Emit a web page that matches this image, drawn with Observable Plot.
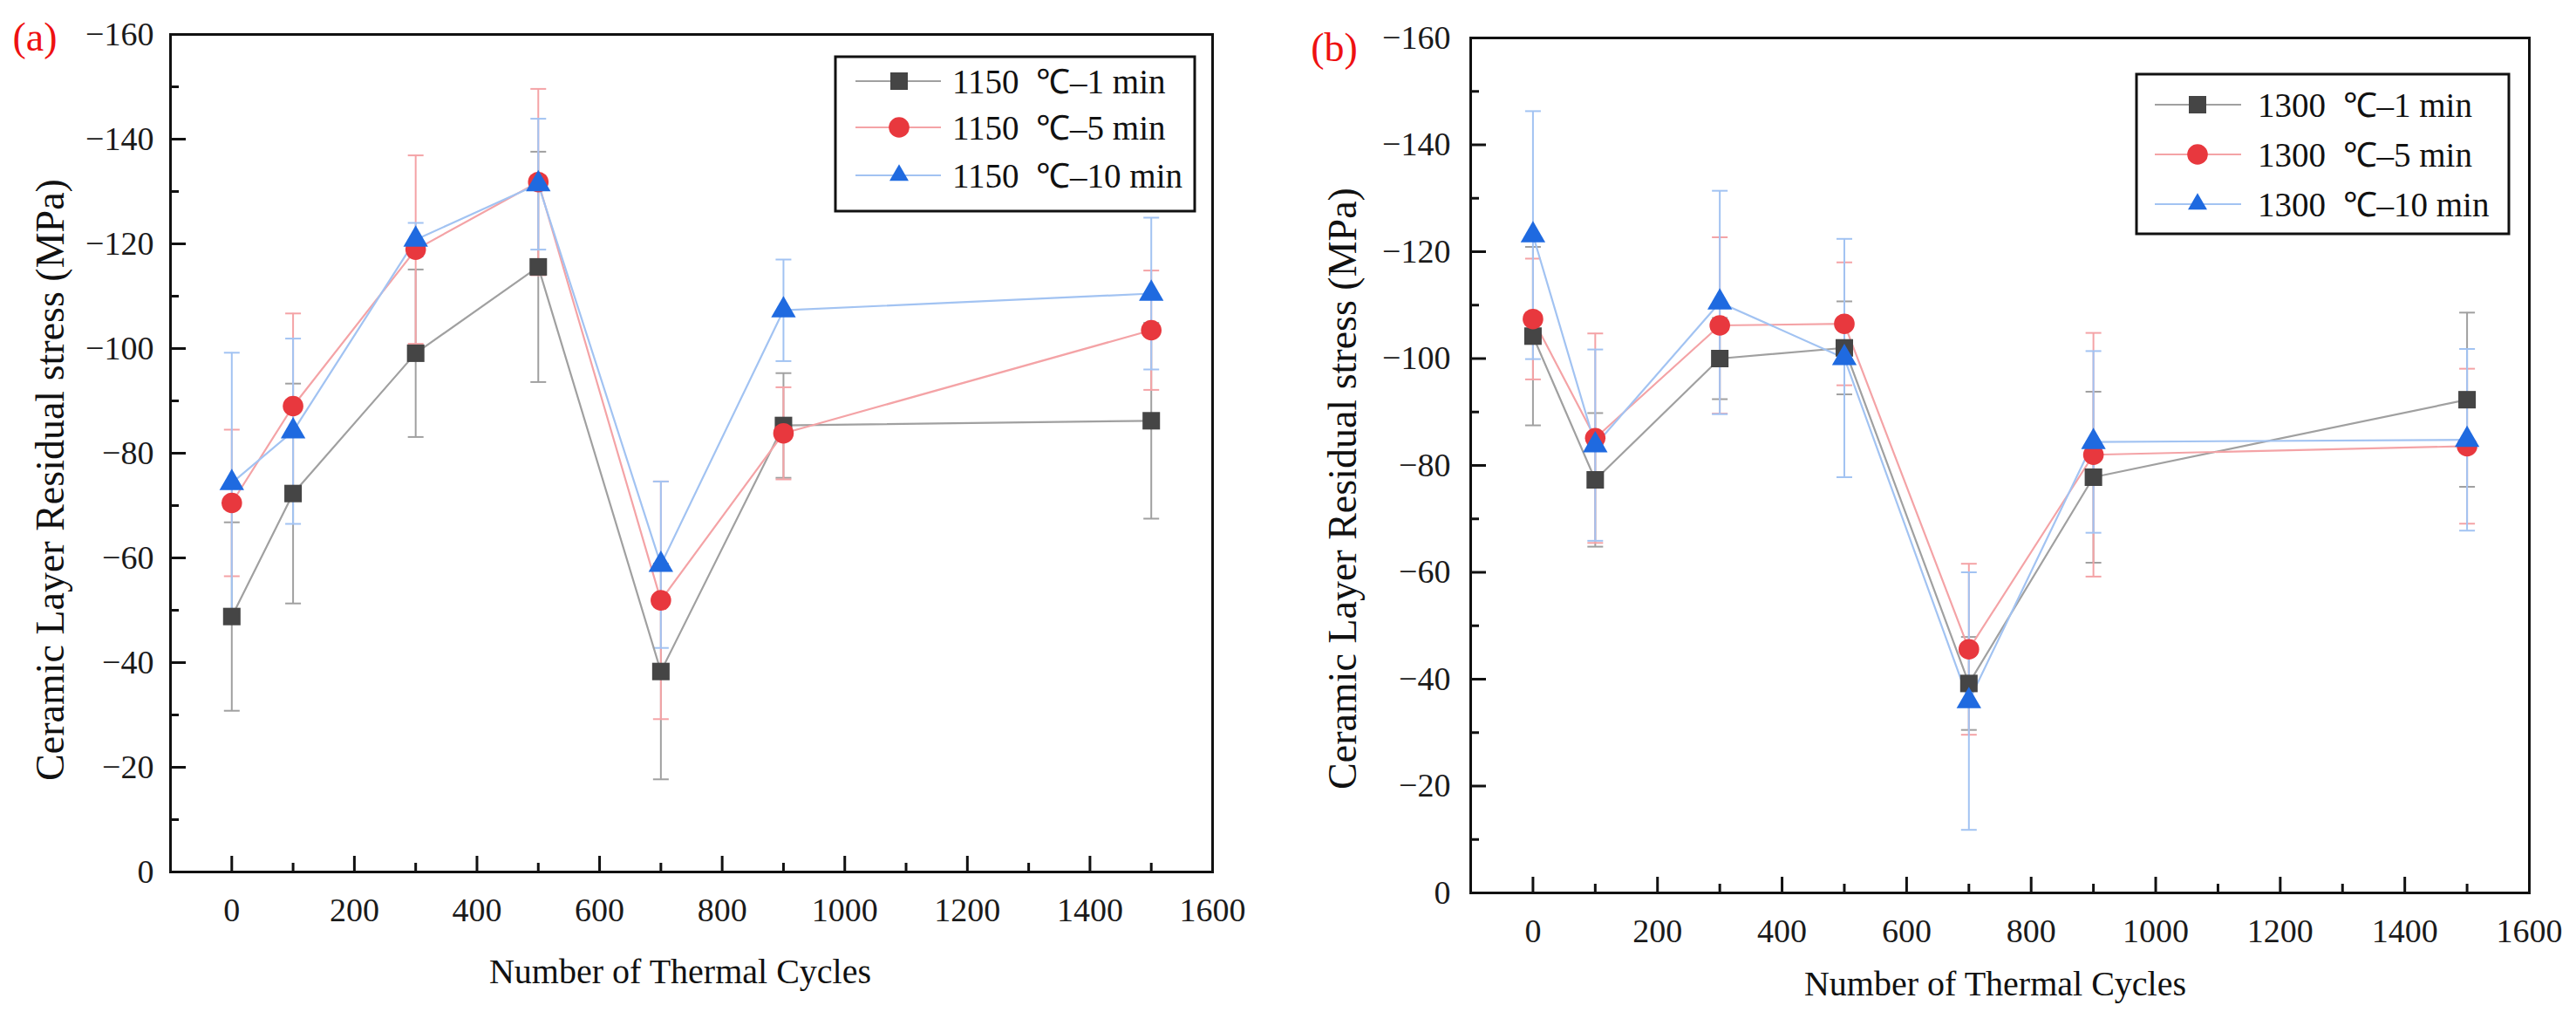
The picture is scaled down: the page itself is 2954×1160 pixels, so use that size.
<!DOCTYPE html>
<html><head><meta charset="utf-8">
<script src="https://cdn.jsdelivr.net/npm/d3@7"></script>
<script src="https://cdn.jsdelivr.net/npm/@observablehq/plot@0.6"></script>
<style>
body{margin:0;background:#fff;width:2954px;height:1160px;overflow:hidden;font-family:"Liberation Serif",serif}
.panel{position:absolute;top:0;width:1477px;height:1160px}
.panel svg{position:absolute;left:0;top:0}
.panel svg text{font-family:"Liberation Serif",serif !important}
.lab{position:absolute;white-space:nowrap;color:#111;font-family:"Liberation Serif",serif !important;transform:translate(-50%,-50%)}
.ylab{transform:translate(-50%,-50%) rotate(-90deg)}
</style></head><body>
<div id="pa" class="panel" style="left:0"></div>
<div id="pb" class="panel" style="left:1477px"></div>
<script>
// ---- data ----
const cycles = [0, 100, 300, 500, 700, 900, 1500];

const seriesA = ["1150  \u2103\u20131 min", "1150  \u2103\u20135 min", "1150  \u2103\u201310 min"];
const a1 = [-48.8, -72.3, -99.1, -115.6, -38.3, -85.3, -86.2];
const a1err = [18, 21, 16, 22, 20.6, 10, 18.7];
const a2 = [-70.5, -89.0, -118.9, -131.8, -51.9, -83.8, -103.5];
const a2err = [14, 17.7, 18, 17.8, 22.7, 8.8, 11.4];
const a3 = [-74.3, -84.2, -120.8, -131.4, -58.7, -107.3, -110.5];
const a3err = [24.9, 17.7, 3.2, 12.5, 15.9, 9.7, 14.5];

const seriesB = ["1300  \u2103\u20131 min", "1300  \u2103\u20135 min", "1300  \u2103\u201310 min"];
const b1 = [-104.2, -77.3, -100, -102, -39.2, -77.8, -92.3];
const b1err = [16.7, 12.5, 7.6, 8.7, 8.7, 16, 16.3];
const b2 = [-107.4, -85.1, -106.2, -106.5, -45.6, -82, -83.6];
const b2err = [11.3, 19.6, 16.5, 11.5, 16, 22.8, 14.5];
const b3 = [-123.1, -83.8, -110.5, -100.1, -35.9, -84.4, -84.8];
const b3err = [23.2, 17.9, 20.9, 22.3, 24.1, 17, 17];

const xMajor = [0, 200, 400, 600, 800, 1000, 1200, 1400];
const xMinor = [100, 300, 500, 700, 900, 1100, 1300, 1500];
const xLabels = [0, 200, 400, 600, 800, 1000, 1200, 1400, 1600];
const yMajor = [-20, -40, -60, -80, -100, -120, -140];
const yMinor = [-10, -30, -50, -70, -90, -110, -130, -150];
const yLabels = [0, -20, -40, -60, -80, -100, -120, -140, -160];

const xTitle = "Number of Thermal Cycles";
const yTitle = "Ceramic Layer Residual stress (MPa)";

// styles
const markerFill = ["#454545", "#e8383e", "#1f6ae0"];
const lineColor = ["#a0a0a0", "#f4a3a6", "#a2c3f2"];
const symbols = ["square", "circle", "triangle"];
const radii = [11.3, 11.8, 10.5];
const serif = "Liberation Serif";

const capSymbol = {draw(ctx) { ctx.moveTo(-9, 0); ctx.lineTo(9, 0); }};
const fmt = d3.format("d");

function buildRows(means, errs) {
  return means.map((m, i) => cycles.map((c, j) => ({
    s: i, x: c, y: m[j], lo: m[j] - errs[i][j], hi: m[j] + errs[i][j]
  })));
}

function makePanel(el, opts) {
  const {means, errs, names, m, legend, panelLabel, yLab, xLab} = opts;
  const W = 1477, H = 1160;
  const rows = buildRows(means, errs);
  const pw = W - m.left - m.right, ph = H - m.top - m.bottom;
  const marks = [];
  marks.push(Plot.tickX(xMajor, {x: d => d, stroke: "#111", strokeWidth: 3, insetTop: ph - 18}));
  marks.push(Plot.tickX(xMinor, {x: d => d, stroke: "#111", strokeWidth: 3, insetTop: ph - 10}));
  marks.push(Plot.tickY(yMajor, {y: d => d, stroke: "#111", strokeWidth: 3, insetRight: pw - 18}));
  marks.push(Plot.tickY(yMinor, {y: d => d, stroke: "#111", strokeWidth: 3, insetRight: pw - 10}));
  marks.push(Plot.axisX({ticks: xLabels, tickFormat: fmt, tickSize: 0, tickPadding: 30, label: null, fill: "#1a1a1a", fontFamily: serif, fontSize: 38}));
  marks.push(Plot.axisY({ticks: yLabels, tickFormat: fmt, tickSize: 0, tickPadding: m.yPad, label: null, fill: "#1a1a1a", fontFamily: serif, fontSize: 38}));
  rows.forEach((r, i) => {
    marks.push(Plot.ruleX(r, {x: "x", y1: "lo", y2: "hi", stroke: lineColor[i], strokeWidth: 2}));
    marks.push(Plot.dot(r, {x: "x", y: "lo", symbol: capSymbol, r: 5, stroke: lineColor[i], strokeWidth: 2, fill: "none"}));
    marks.push(Plot.dot(r, {x: "x", y: "hi", symbol: capSymbol, r: 5, stroke: lineColor[i], strokeWidth: 2, fill: "none"}));
  });
  rows.forEach((r, i) => {
    marks.push(Plot.line(r, {x: "x", y: "y", stroke: lineColor[i], strokeWidth: 2.2}));
  });
  rows.forEach((r, i) => {
    marks.push(Plot.dot(r, {x: "x", y: "y", symbol: symbols[i], r: radii[i], fill: markerFill[i], stroke: "none"}));
  });
  marks.push(Plot.frame({stroke: "#111", strokeWidth: 3}));

  const chart = Plot.plot({
    width: W, height: H,
    marginLeft: m.left, marginRight: m.right, marginTop: m.top, marginBottom: m.bottom,
    x: {type: "linear", domain: [-100, 1600]},
    y: {type: "linear", domain: [0, -160]},
    style: {fontFamily: serif, fontSize: "38px", background: "white", color: "#111", overflow: "visible"},
    marks
  });
  el.appendChild(chart);

  const L = legend;
  const svg = d3.select(el).append("svg")
    .attr("width", W).attr("height", H)
    .style("pointer-events", "none");
  svg.append("rect").attr("x", L.x).attr("y", L.y).attr("width", L.w).attr("height", L.h)
    .attr("fill", "white").attr("stroke", "#111").attr("stroke-width", 3);
  names.forEach((n, i) => {
    const cy = L.rows[i];
    svg.append("line").attr("x1", L.lx1).attr("x2", L.lx2).attr("y1", cy).attr("y2", cy)
      .attr("stroke", lineColor[i]).attr("stroke-width", 2.2);
    const sym = [d3.symbolSquare, d3.symbolCircle, d3.symbolTriangle2][i];
    svg.append("path").attr("d", d3.symbol(sym, Math.PI * radii[i] * radii[i])())
      .attr("transform", `translate(${L.mx},${cy})`).attr("fill", markerFill[i]);
    svg.append("text").attr("x", L.tx).attr("y", cy).attr("dy", "0.35em")
      .attr("font-size", 39)
      .attr("fill", "#111").style("white-space", "pre").text(n);
  });

  const add = (txt, x, y, size, cls, color) => {
    const d = document.createElement("div");
    d.className = "lab " + (cls || "");
    d.style.left = x + "px"; d.style.top = y + "px"; d.style.fontSize = size + "px";
    if (color) d.style.color = color;
    d.textContent = txt;
    el.appendChild(d);
  };
  add(panelLabel.t, panelLabel.x, panelLabel.y, 46, "", "#ee1111");
  add(yTitle, yLab.x, yLab.y, 46, "ylab");
  add(xTitle, xLab.x, xLab.y, 40, "");
}

makePanel(document.getElementById("pa"), {
  means: [a1, a2, a3], errs: [a1err, a2err, a3err], names: seriesA,
  m: {left: 195, right: 87, top: 39, bottom: 161, yPad: 19},
  legend: {x: 958, y: 65, w: 412, h: 177, rows: [93, 146, 201], lx1: 981, lx2: 1079, mx: 1031, tx: 1092},
  panelLabel: {t: "(a)", x: 40, y: 42},
  yLab: {x: 57, y: 550},
  xLab: {x: 780, y: 1113}
});

makePanel(document.getElementById("pb"), {
  means: [b1, b2, b3], errs: [b1err, b2err, b3err], names: seriesB,
  m: {left: 209, right: 54, top: 43, bottom: 137, yPad: 23},
  legend: {x: 973, y: 85, w: 427, h: 183, rows: [120, 177, 234], lx1: 994, lx2: 1093, mx: 1043, tx: 1112},
  panelLabel: {t: "(b)", x: 53, y: 54},
  yLab: {x: 62, y: 560},
  xLab: {x: 811, y: 1127}
});
</script>
</body></html>
